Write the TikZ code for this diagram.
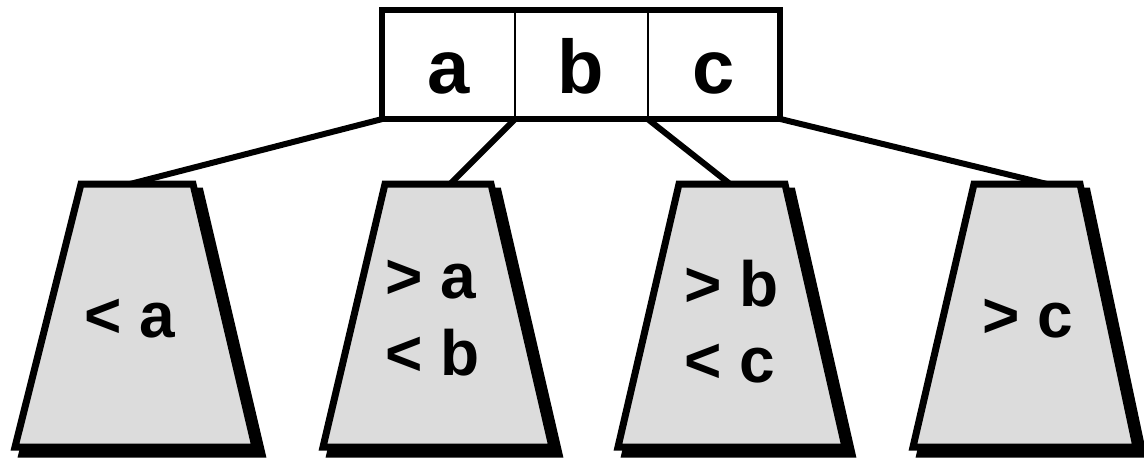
\documentclass[tikz,border=0pt]{standalone}
\usepackage{fontspec}
\setmainfont{Liberation Sans}
\definecolor{tgray}{RGB}{220,220,220}
\tikzset{
  conn/.style={line width=6pt},
  leafbody/.style={draw=black, fill=tgray, line width=7pt, line join=miter},
  leafshadow/.style={draw=black, fill=black, line width=7pt, line join=miter},
  cell/.style={draw=black, line width=2pt, minimum width=132.67pt, minimum height=109pt, inner sep=0pt, outer sep=0pt},
  outerbox/.style={draw=black, line width=6pt},
  boxlabel/.style={font=\fontsize{76}{76}\selectfont\bfseries, anchor=base, inner sep=0pt},
  leaflabel/.style={font=\fontsize{64}{64}\selectfont\bfseries, anchor=base, inner sep=0pt},
}
\begin{document}
\begin{tikzpicture}[x=1pt,y=-1pt]
\useasboundingbox (0,0) rectangle (1144,459);
% key cells of the root node
\node[cell] (ca) at (448.67,64.5) {};
\node[cell] (cb) at (581.33,64.5) {};
\node[cell] (cc) at (714,64.5) {};
% tops of the subtrees
\coordinate (t1) at (130,184);
\coordinate (t2) at (450,184);
\coordinate (t3) at (730,184);
\coordinate (t4) at (1047,184);
% connectors
\draw[conn] (ca.south west) -- (t1);
\draw[conn] (ca.south east) -- (t2);
\draw[conn] (cc.south west) -- (t3);
\draw[conn] (cc.south east) -- (t4);
% subtrees: shadows
\begin{scope}[shift={(7,7)}]
\path[leafshadow] (81,184) -- (193,184) -- (255,447) -- (15,447) -- cycle;
\path[leafshadow] (385,184) -- (491,184) -- (552,447) -- (323,447) -- cycle;
\path[leafshadow] (679,184) -- (785,184) -- (845,447) -- (618,447) -- cycle;
\path[leafshadow] (974,184) -- (1080,184) -- (1136,447) -- (913,447) -- cycle;
\end{scope}
% subtrees: bodies
\path[leafbody] (81,184) -- (193,184) -- (255,447) -- (15,447) -- cycle;
\path[leafbody] (385,184) -- (491,184) -- (552,447) -- (323,447) -- cycle;
\path[leafbody] (679,184) -- (785,184) -- (845,447) -- (618,447) -- cycle;
\path[leafbody] (974,184) -- (1080,184) -- (1136,447) -- (913,447) -- cycle;
% outer frame of root
\draw[outerbox] (ca.north west) rectangle (cc.south east);
% root labels
\node[boxlabel] (la) at (449,93) {a};
\node[boxlabel] (lb) at (581,93) {b};
\node[boxlabel] (lc) at (714,93) {c};
% subtree labels
\node[leaflabel] (s1) at (130,337) {< a};
\node[leaflabel] (s2a) at (431,298) {> a};
\node[leaflabel] (s2b) at (433,375) {< b};
\node[leaflabel] (s3a) at (732,306) {> b};
\node[leaflabel] (s3b) at (730,382) {< c};
\node[leaflabel] (s4) at (1028,337) {> c};
\end{tikzpicture}
\end{document}
